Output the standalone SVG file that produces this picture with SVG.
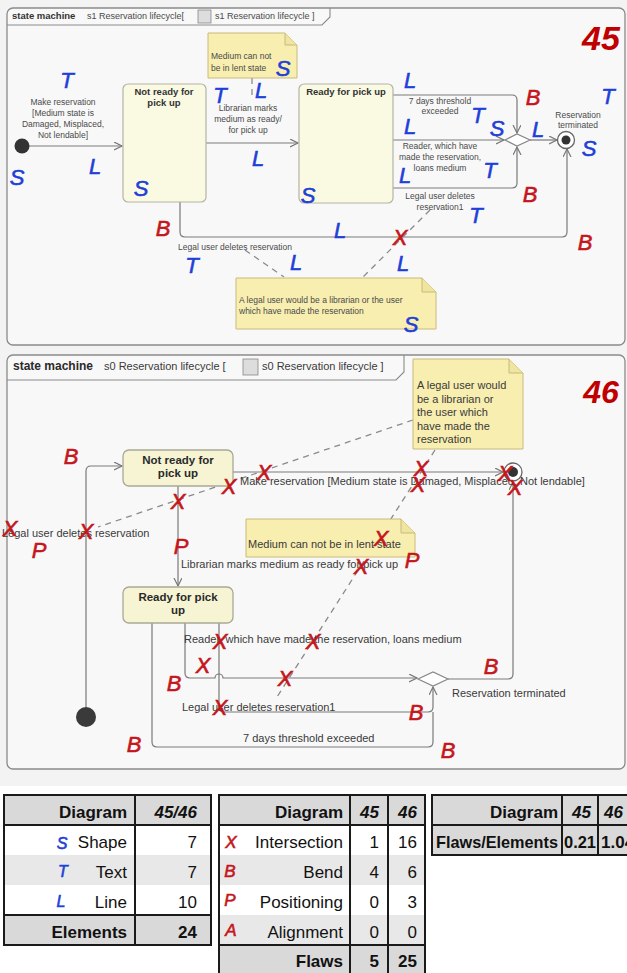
<svg xmlns="http://www.w3.org/2000/svg" width="627" height="973" viewBox="0 0 627 973">
<style>
.bg{fill:#f3f3f3}
.frame{fill:#f8f8f8;stroke:#8a8a8a;stroke-width:1.3}
.tab{fill:none;stroke:#8a8a8a;stroke-width:1.1}
.st{fill:#fafae3;stroke:#b4b4a4;stroke-width:1.2}
.st2{fill:#f6f4d3;stroke:#a8a898;stroke-width:1.3}
.note{fill:#f7eeb0;stroke:#c8ba7c;stroke-width:1}
.fold{fill:#efe4a0;stroke:#c8ba7c;stroke-width:1}
.ln{fill:none;stroke:#7a7a7a;stroke-width:1.2}
.dash{fill:none;stroke:#8a8a8a;stroke-width:1.3;stroke-dasharray:6 5}
.t1{font-family:"Liberation Sans",Arial,sans-serif;font-size:8.5px;fill:#4a4a4a}
.t1b{font-family:"Liberation Sans",Arial,sans-serif;font-size:9.5px;font-weight:bold;fill:#333}
.t2{font-family:"Liberation Sans",Arial,sans-serif;font-size:11px;fill:#3a3a3a}
.t2b{font-family:"Liberation Sans",Arial,sans-serif;font-size:11.5px;font-weight:bold;fill:#2a2a2a}
.c{text-anchor:middle}
.hb{font-family:"Liberation Sans",Arial,sans-serif;font-style:italic;font-size:22px;fill:#1e3fd8;stroke:#1e3fd8;stroke-width:0.6;text-anchor:middle;dominant-baseline:central}
.hr{font-family:"Liberation Sans",Arial,sans-serif;font-style:italic;font-size:22px;fill:#c4161c;stroke:#c4161c;stroke-width:0.6;text-anchor:middle;dominant-baseline:central}
.num{font-family:"Liberation Sans",Arial,sans-serif;font-weight:bold;font-style:italic;fill:#c00000;text-anchor:middle}
.tb{font-family:"Liberation Sans",Arial,sans-serif;font-size:17px;fill:#111;text-anchor:end}
.bold{font-weight:bold}
.it{font-style:italic}
.grid{fill:none;stroke:#1a1a1a;stroke-width:2}
.hd{fill:#d9d9d9}
.alt{fill:#e8e8e8}
.wh{fill:#ffffff}
</style>
<defs>
<marker id="ar" markerWidth="10" markerHeight="10" refX="8" refY="4" orient="auto" markerUnits="userSpaceOnUse">
<path d="M0,0 L8,4 L0,8" fill="none" stroke="#777" stroke-width="1.2"/>
</marker>
</defs>
<rect x="0" y="0" width="627" height="786" class="bg"/>

<!-- ================= Diagram 45 ================= -->
<g id="frame45">
<rect x="7" y="8" width="618" height="337" rx="6" class="frame"/>
<path d="M7,25 H322 L330,17 V8" class="tab"/>
<text x="12" y="19" class="t1b">state machine</text>
<text x="87" y="19" class="t1" style="font-size:9px">s1 Reservation lifecycle[</text>
<rect x="198" y="10" width="13" height="13" fill="#ddd" stroke="#888" stroke-width="0.8"/>
<text x="215" y="19" class="t1" style="font-size:9px">s1 Reservation lifecycle ]</text>
<text x="601" y="50" class="num" style="font-size:34px">45</text>
</g>

<g id="connectors45">
<path d="M29,146 H122" class="ln" marker-end="url(#ar)"/>
<path d="M206,143 H298" class="ln" marker-end="url(#ar)"/>
<path d="M393,95 H512 Q517,95 517,100 V133" class="ln" marker-end="url(#ar)"/>
<path d="M393,140 H504" class="ln" marker-end="url(#ar)"/>
<path d="M393,188 H512 Q517,188 517,183 V147" class="ln" marker-end="url(#ar)"/>
<path d="M530,140 H557" class="ln" marker-end="url(#ar)"/>
<path d="M180,202 V232 Q180,237 185,237 H562 Q567,237 567,232 V149" class="ln" marker-end="url(#ar)"/>
<path d="M252,78 V100" class="dash"/>
<path d="M245,250 L284,277" class="dash"/>
<path d="M430,210 L362,278" class="dash"/>
<text x="63" y="105" class="t1 c">Make reservation</text>
<text x="63" y="116" class="t1 c">[Medium state is</text>
<text x="63" y="127" class="t1 c">Damaged, Misplaced,</text>
<text x="63" y="138" class="t1 c">Not lendable]</text>
<text x="248" y="111" class="t1 c">Librarian marks</text>
<text x="248" y="122" class="t1 c">medium as ready/</text>
<text x="248" y="133" class="t1 c">for pick up</text>
<text x="440" y="104" class="t1 c">7 days threshold</text>
<text x="440" y="114" class="t1 c">exceeded</text>
<text x="440" y="149" class="t1 c">Reader, which have</text>
<text x="440" y="160" class="t1 c">made the reservation,</text>
<text x="440" y="171" class="t1 c">loans medium</text>
<text x="440" y="199" class="t1 c">Legal user deletes</text>
<text x="440" y="210" class="t1 c">reservation1</text>
<text x="235" y="250" class="t1 c">Legal user deletes reservation</text>
</g>

<g id="init45"><circle cx="22" cy="146" r="7.5" fill="#333"/></g>
<g id="notready45">
<rect x="123" y="84" width="83" height="118" rx="5" class="st"/>
<text x="164" y="95" class="t1b c">Not ready for</text>
<text x="164" y="106" class="t1b c">pick up</text>
</g>
<g id="ready45">
<rect x="299" y="84" width="94" height="119" rx="5" class="st"/>
<text x="346" y="95" class="t1b c">Ready for pick up</text>
</g>
<g id="note45a">
<path d="M208,33 H285 L297,45 V78 H208 Z" class="note"/>
<path d="M285,33 V45 H297" class="fold"/>
<text x="211" y="59" class="t1">Medium can not</text>
<text x="211" y="71" class="t1">be in lent state</text>
</g>
<g id="note45b">
<path d="M236,278 H422 L436,292 V329 H236 Z" class="note"/>
<path d="M422,278 V292 H436" class="fold"/>
<text x="239" y="303" class="t1">A legal user would be a librarian or the user</text>
<text x="239" y="314" class="t1">which have made the reservation</text>
</g>
<g id="choice45"><path d="M505,140 L517,134 L530,140 L517,146 Z" fill="#fff" stroke="#888" stroke-width="1.2"/></g>
<g id="final45">
<circle cx="566" cy="140" r="8.5" fill="#fff" stroke="#666" stroke-width="1.3"/>
<circle cx="566" cy="140" r="4.5" fill="#333"/>
<text x="578" y="118" class="t1 c">Reservation</text>
<text x="578" y="128" class="t1 c">terminated</text>
</g>

<g id="marks45">
<text x="67" y="80" class="hb">T</text>
<text x="95" y="166" class="hb">L</text>
<text x="17" y="177" class="hb">S</text>
<text x="141" y="188" class="hb">S</text>
<text x="220" y="95" class="hb">T</text>
<text x="261" y="90" class="hb">L</text>
<text x="283" y="68" class="hb">S</text>
<text x="258" y="158" class="hb">L</text>
<text x="308" y="195" class="hb">S</text>
<text x="410" y="80" class="hb">L</text>
<text x="410" y="126" class="hb">L</text>
<text x="478" y="115" class="hb">T</text>
<text x="497" y="128" class="hb">S</text>
<text x="538" y="129" class="hb">L</text>
<text x="589" y="148" class="hb">S</text>
<text x="608" y="96" class="hb">T</text>
<text x="405" y="175" class="hb">L</text>
<text x="490" y="170" class="hb">T</text>
<text x="476" y="215" class="hb">T</text>
<text x="340" y="230" class="hb">L</text>
<text x="192" y="265" class="hb">T</text>
<text x="296" y="262" class="hb">L</text>
<text x="403" y="263" class="hb">L</text>
<text x="411" y="324" class="hb">S</text>
<text x="533" y="97" class="hr">B</text>
<text x="530" y="194" class="hr">B</text>
<text x="163" y="228" class="hr">B</text>
<text x="585" y="242" class="hr">B</text>
<text x="400" y="237" class="hr">X</text>
</g>

<!-- ================= Diagram 46 ================= -->
<g id="frame46">
<rect x="7" y="355" width="618" height="414" rx="6" class="frame"/>
<path d="M7,380 H396 L404,372 V355" class="tab"/>
<text x="13" y="370" class="t2b" style="font-size:12px">state machine</text>
<text x="104" y="370" class="t2">s0 Reservation lifecycle [</text>
<rect x="243" y="359" width="15" height="16" fill="#ddd" stroke="#888" stroke-width="0.8"/>
<text x="262" y="370" class="t2">s0 Reservation lifecycle ]</text>
<text x="601" y="403" class="num" style="font-size:32px">46</text>
</g>

<g id="connectors46">
<path d="M86,707 V471 Q86,466 91,466 H122" class="ln" marker-end="url(#ar)"/>
<path d="M233,472 H503" class="ln" marker-end="url(#ar)"/>
<path d="M178,486 V586" class="ln" marker-end="url(#ar)"/>
<path d="M185,623 V673 Q185,678 190,678 H215 A4,4 0 0 1 223,678 H417" class="ln" marker-end="url(#ar)"/>
<path d="M219,623 V707 Q219,712 224,712 H428 Q433,712 433,707 V687" class="ln" marker-end="url(#ar)"/>
<path d="M152,623 V742 Q152,747 157,747 H428 Q433,747 433,742 V712" class="ln"/>
<path d="M448,679 H508 Q513,679 513,674 V482" class="ln" marker-end="url(#ar)"/>
<path d="M413,420 L98,527" class="dash"/>
<path d="M435,450 L277,697" class="dash"/>
<text x="240" y="485" class="t2">Make reservation [Medium state is Damaged, Misplaced, Not lendable]</text>
<text x="2" y="537" class="t2">Legal user deletes reservation</text>
<text x="181" y="568" class="t2">Librarian marks medium as ready for pick up</text>
<text x="184" y="643" class="t2">Reader, which have made the reservation, loans medium</text>
<text x="182" y="711" class="t2">Legal user deletes reservation1</text>
<text x="243" y="742" class="t2">7 days threshold exceeded</text>
<text x="452" y="697" class="t2">Reservation terminated</text>
</g>

<g id="init46"><circle cx="86" cy="717" r="10" fill="#3a3a3a"/></g>
<g id="notready46">
<rect x="123" y="450" width="110" height="36" rx="6" class="st2"/>
<text x="178" y="464" class="t2b c">Not ready for</text>
<text x="178" y="477" class="t2b c">pick up</text>
</g>
<g id="ready46">
<rect x="123" y="587" width="110" height="36" rx="6" class="st2"/>
<text x="178" y="601" class="t2b c">Ready for pick</text>
<text x="178" y="614" class="t2b c">up</text>
</g>
<g id="note46a">
<path d="M413,359 H509 L523,373 V449 H413 Z" class="note"/>
<path d="M509,359 V373 H523" class="fold"/>
<text x="417" y="389" class="t2">A legal user would</text>
<text x="417" y="403" class="t2">be a librarian or</text>
<text x="417" y="416" class="t2">the user which</text>
<text x="417" y="430" class="t2">have made the</text>
<text x="417" y="443" class="t2">reservation</text>
</g>
<g id="note46b">
<path d="M246,519 H401 L415,533 V557 H246 Z" class="note"/>
<path d="M401,519 V533 H415" class="fold"/>
<text x="248" y="548" class="t2">Medium can not be in lent state</text>
</g>
<g id="choice46"><path d="M418,679 L433,672 L448,679 L433,686 Z" fill="#fff" stroke="#888" stroke-width="1.2"/></g>
<g id="final46">
<circle cx="513" cy="472" r="9" fill="#fff" stroke="#666" stroke-width="1.3"/>
<circle cx="513" cy="472" r="5" fill="#333"/>
</g>

<g id="marks46">
<text x="10" y="528" class="hr">X</text>
<text x="86" y="531" class="hr">X</text>
<text x="178" y="501" class="hr">X</text>
<text x="229" y="486" class="hr">X</text>
<text x="264" y="472" class="hr">X</text>
<text x="421" y="468" class="hr">X</text>
<text x="418" y="484" class="hr">X</text>
<text x="505" y="473" class="hr">X</text>
<text x="515" y="487" class="hr">X</text>
<text x="381" y="538" class="hr">X</text>
<text x="361" y="566" class="hr">X</text>
<text x="220" y="641" class="hr">X</text>
<text x="203" y="665" class="hr">X</text>
<text x="313" y="641" class="hr">X</text>
<text x="285" y="678" class="hr">X</text>
<text x="220" y="707" class="hr">X</text>
<text x="71" y="456" class="hr">B</text>
<text x="174" y="683" class="hr">B</text>
<text x="134" y="744" class="hr">B</text>
<text x="491" y="666" class="hr">B</text>
<text x="416" y="712" class="hr">B</text>
<text x="448" y="750" class="hr">B</text>
<text x="39" y="550" class="hr">P</text>
<text x="181" y="546" class="hr">P</text>
<text x="412" y="560" class="hr">P</text>
</g>

<!-- ================= Tables ================= -->
<g id="table1">
<rect x="4" y="795" width="207" height="30" class="hd"/>
<rect x="4" y="825" width="207" height="30" class="wh"/>
<rect x="4" y="855" width="207" height="30" class="alt"/>
<rect x="4" y="885" width="207" height="30" class="wh"/>
<rect x="4" y="915" width="207" height="30" class="hd"/>
<rect x="4" y="795" width="207" height="150" class="grid"/>
<path d="M4,825 H211 M4,915 H211 M135,795 V945" class="grid"/>
<text x="127" y="818" class="tb bold">Diagram</text>
<text x="197" y="818" class="tb bold it">45/46</text>
<text x="127" y="848" class="tb">Shape</text>
<text x="197" y="848" class="tb">7</text>
<text x="127" y="878" class="tb">Text</text>
<text x="197" y="878" class="tb">7</text>
<text x="127" y="908" class="tb">Line</text>
<text x="197" y="908" class="tb">10</text>
<text x="127" y="938" class="tb bold">Elements</text>
<text x="197" y="938" class="tb bold">24</text>
<text x="62" y="843" class="hb" style="font-size:16px">S</text>
<text x="63" y="871" class="hb" style="font-size:16px">T</text>
<text x="61" y="901" class="hb" style="font-size:16px">L</text>
</g>

<g id="table2">
<rect x="219" y="795" width="206" height="30" class="hd"/>
<rect x="219" y="825" width="206" height="30" class="wh"/>
<rect x="219" y="855" width="206" height="30" class="alt"/>
<rect x="219" y="885" width="206" height="30" class="wh"/>
<rect x="219" y="915" width="206" height="30" class="alt"/>
<rect x="219" y="945" width="206" height="30" class="hd"/>
<rect x="219" y="795" width="206" height="180" class="grid"/>
<path d="M219,825 H425 M219,945 H425 M350,795 V975 M388,795 V975" class="grid"/>
<text x="343" y="818" class="tb bold">Diagram</text>
<text x="379" y="818" class="tb bold it">45</text>
<text x="417" y="818" class="tb bold it">46</text>
<text x="343" y="848" class="tb">Intersection</text>
<text x="379" y="848" class="tb">1</text>
<text x="417" y="848" class="tb">16</text>
<text x="343" y="878" class="tb">Bend</text>
<text x="379" y="878" class="tb">4</text>
<text x="417" y="878" class="tb">6</text>
<text x="343" y="908" class="tb">Positioning</text>
<text x="379" y="908" class="tb">0</text>
<text x="417" y="908" class="tb">3</text>
<text x="343" y="938" class="tb">Alignment</text>
<text x="379" y="938" class="tb">0</text>
<text x="417" y="938" class="tb">0</text>
<text x="343" y="967" class="tb bold">Flaws</text>
<text x="379" y="967" class="tb bold">5</text>
<text x="417" y="967" class="tb bold">25</text>
<text x="231" y="842" class="hr" style="font-size:17px">X</text>
<text x="230" y="871" class="hr" style="font-size:17px">B</text>
<text x="230" y="900" class="hr" style="font-size:17px">P</text>
<text x="231" y="930" class="hr" style="font-size:17px">A</text>
</g>

<g id="table3">
<rect x="432" y="795" width="210" height="60" class="hd"/>
<rect x="432" y="795" width="210" height="60" class="grid"/>
<path d="M432,825 H642 M562,795 V855 M598,795 V855" class="grid"/>
<text x="558" y="818" class="tb bold">Diagram</text>
<text x="591" y="818" class="tb bold it">45</text>
<text x="604" y="818" class="tb bold it" style="text-anchor:start">46</text>
<text x="558" y="848" class="tb bold" textLength="122" lengthAdjust="spacingAndGlyphs">Flaws/Elements</text>
<text x="596" y="848" class="tb bold" textLength="32" lengthAdjust="spacingAndGlyphs">0.21</text>
<text x="601" y="848" class="tb bold" style="text-anchor:start">1.04</text>
</g>
</svg>
